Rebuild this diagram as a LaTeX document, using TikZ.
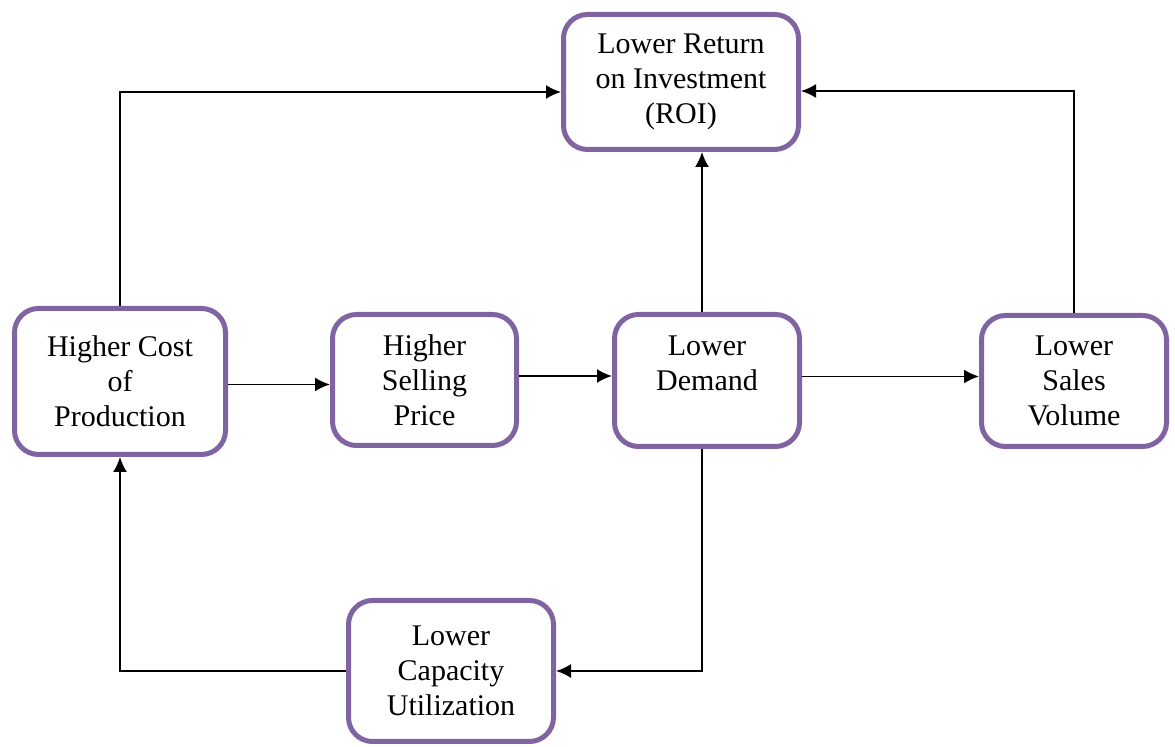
\documentclass[tikz,border=0pt]{standalone}
\usepackage{fontspec}
\setmainfont{Liberation Serif}
\usetikzlibrary{positioning, arrows.meta, calc}

\begin{document}
\begin{tikzpicture}[x=0.5pt,y=-0.5pt, align=center,
    box/.style={draw=boxpurple, line width=2.5pt, rounded corners=12pt, fill=white,
        font=\fontsize{15}{17.5}\selectfont, inner sep=2pt},
    link/.style={draw, line width=0.9pt, -{Latex[length=7.5pt,width=7pt]}}]
\definecolor{boxpurple}{HTML}{8064A2}
\useasboundingbox (0,0) rectangle (1175,747);

\node[box, minimum width=117.5pt, minimum height=67.5pt] (roi) at (681,82) {Lower Return\\on Investment\\(ROI)};
\node[box, minimum width=105.5pt, minimum height=73pt] (cost) at (120,381.5) {Higher Cost\\of\\Production};
\node[box, minimum width=92pt, minimum height=65.5pt] (price) at (424.5,380) {Higher\\Selling\\Price};
\node[box, minimum width=92.5pt, minimum height=66pt] (demand) at (707,380.5) {Lower\\Demand\\~};
\node[box, minimum width=92.5pt, minimum height=65.5pt] (sales) at (1074,381) {Lower\\Sales\\Volume};
\node[box, minimum width=102.5pt, minimum height=70.5pt] (cap) at (451,671) {Lower\\Capacity\\Utilization};

\draw[link] (cost.north) |- ([yshift=-5pt]roi.west);
\draw[link] (sales.north) |- ([yshift=-4.5pt]roi.east);
\draw[link] ([yshift=-1.5pt]cost.east) -- ([yshift=-1.5pt]cost.east -| price.west);
\draw[link] ([yshift=2pt]price.east) -- ([yshift=2pt]price.east -| demand.west);
\draw[link] ([yshift=2pt]demand.east) -- ([yshift=2pt]demand.east -| sales.west);
\draw[link] ([xshift=-2.5pt]demand.north) -- ([xshift=-2.5pt]demand.north |- roi.south);
\draw[link] ([xshift=-2.5pt]demand.south) |- (cap.east);
\draw[link] (cap.west) -| (cost.south);

\end{tikzpicture}
\end{document}
